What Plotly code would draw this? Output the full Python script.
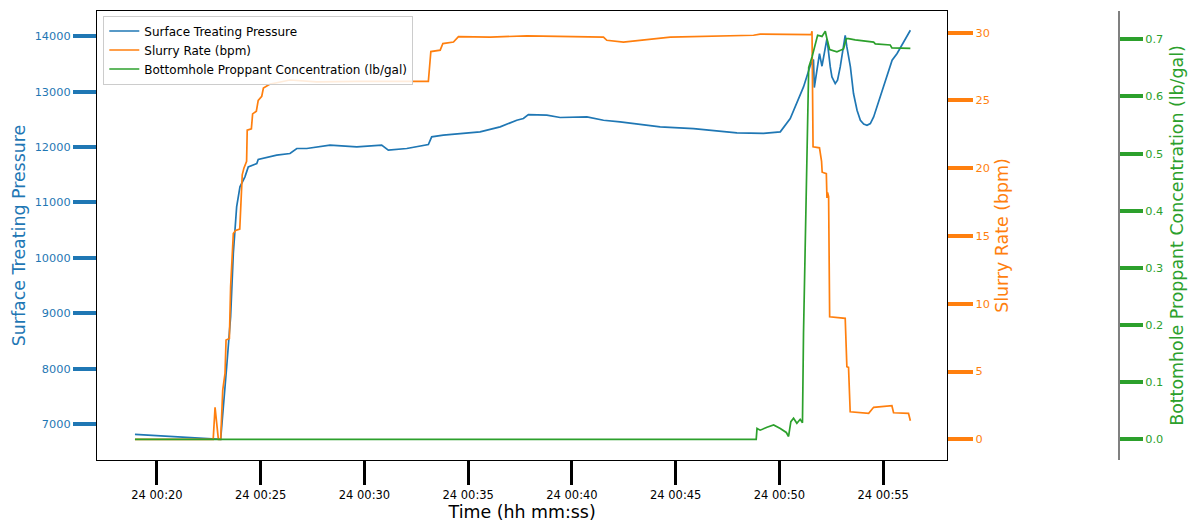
import pandas as pd
import plotly.graph_objects as go

# Treatment data, times are minutes after midnight on the job day
DAY = pd.Timestamp("2018-01-24")

pressure_min = [18.94, 23.07, 23.36, 23.55, 23.68, 23.84, 24.00, 24.24, 24.40, 24.81,
                24.88, 25.77, 26.41, 26.74, 27.22, 28.34, 29.63, 30.83, 31.15, 32.04,
                33.08, 33.24, 33.80, 34.61, 35.57, 36.54, 37.34, 37.66, 37.90, 38.79,
                39.43, 40.72, 41.52, 42.32, 43.29, 44.25, 45.86, 46.82, 47.95, 49.23,
                50.04, 50.52, 50.91, 51.16, 51.49, 51.64, 51.68, 51.93, 52.05, 52.29,
                52.45, 52.53, 52.69, 52.80, 52.93, 53.09, 53.17, 53.25, 53.33, 53.42,
                53.57, 53.74, 53.90, 54.06, 54.22, 54.38, 54.54, 54.78, 55.02, 55.43,
                55.67, 56.31]
pressure_psi = [6814, 6724, 8034, 8936, 10080, 10920, 11281, 11462, 11642, 11703,
                11775, 11853, 11884, 11974, 11974, 12034, 12003, 12034, 11943, 11974,
                12046, 12184, 12214, 12245, 12274, 12364, 12484, 12515, 12587, 12575,
                12533, 12544, 12484, 12455, 12412, 12364, 12334, 12292, 12256, 12245,
                12274, 12515, 12845, 13085, 13477, 13580, 13075, 13688, 13459, 13958,
                13446, 13266, 13147, 13206, 13446, 13868, 14018, 13808, 13627, 13446,
                12966, 12665, 12484, 12415, 12394, 12424, 12544, 12815, 13085, 13567,
                13688, 14108]

rate_min = [18.94, 22.71, 22.80, 22.88, 22.96, 23.07, 23.17, 23.28, 23.33, 23.49,
            23.55, 23.68, 23.79, 23.99, 24.11, 24.19, 24.32, 24.35, 24.55, 24.61,
            24.79, 24.88, 25.05, 25.13, 25.45, 25.77, 26.41, 27.70, 29.63, 33.08,
            33.20, 33.65, 33.78, 34.29, 34.53, 36.06, 37.83, 41.52, 41.68, 42.48,
            43.61, 44.74, 48.75, 49.07, 51.53, 51.57, 51.62, 51.93, 52.03, 52.06,
            52.26, 52.29, 52.32, 52.37, 52.42, 53.17, 53.25, 53.33, 53.41, 54.30,
            54.54, 55.42, 55.50, 56.22, 56.31]
rate_bpm = [0.0, 0.0, 2.36, 1.0, 0.0, 0.0, 3.63, 4.86, 7.32, 7.44,
            11.25, 15.18, 15.4, 15.5, 19.5, 20.0, 20.5, 22.8, 22.9, 24.0,
            24.2, 25.0, 25.3, 25.9, 26.2, 26.3, 26.5, 26.36, 26.4, 26.4,
            28.6, 28.7, 29.19, 29.3, 29.7, 29.67, 29.75, 29.67, 29.43, 29.3,
            29.48, 29.67, 29.8, 29.88, 29.85, 30.1, 21.57, 21.5, 20.5, 19.7,
            19.6, 17.8, 18.2, 17.9, 9.04, 8.92, 5.35, 5.3, 2.03, 1.92,
            2.36, 2.48, 1.96, 1.92, 1.37]

conc_min = [18.94, 48.88, 48.92, 49.07, 49.40, 49.72, 50.04, 50.33, 50.44, 50.55,
            50.68, 50.84, 51.00, 51.11, 51.16, 51.24, 51.33, 51.41, 51.57, 51.73,
            51.84, 52.05, 52.21, 52.29, 52.42, 52.77, 52.93, 53.09, 53.22, 53.33,
            53.65, 54.54, 54.62, 55.34, 55.42, 56.31]
conc_ppg = [0.0, 0.0, 0.019, 0.016, 0.021, 0.025, 0.019, 0.012, 0.005, 0.031,
            0.037, 0.028, 0.035, 0.029, 0.185, 0.337, 0.564, 0.651, 0.669, 0.692,
            0.707, 0.705, 0.714, 0.701, 0.682, 0.678, 0.680, 0.683, 0.701, 0.701,
            0.699, 0.695, 0.692, 0.690, 0.685, 0.684]

x_range_min = [17.11, 58.09]
x_tick_min = [20, 25, 30, 35, 40, 45, 50, 55]
pressure_ticks = [7000, 8000, 9000, 10000, 11000, 12000, 13000, 14000]
rate_ticks = [0, 5, 10, 15, 20, 25, 30]
conc_ticks = [0.0, 0.1, 0.2, 0.3, 0.4, 0.5, 0.6, 0.7]


def to_time(minutes):
    return DAY + pd.to_timedelta(pd.Series(minutes, dtype=float), unit="m")


BLUE, ORANGE, GREEN = "#1f77b4", "#ff7f0e", "#2ca02c"
FONT = "DejaVu Sans"

fig = go.Figure()
fig.add_trace(go.Scatter(x=to_time(pressure_min), y=pressure_psi, mode="lines",
                         name="Surface Treating Pressure", yaxis="y",
                         line=dict(color=BLUE, width=1.7)))
fig.add_trace(go.Scatter(x=to_time(rate_min), y=rate_bpm, mode="lines",
                         name="Slurry Rate (bpm)", yaxis="y2",
                         line=dict(color=ORANGE, width=1.7)))
fig.add_trace(go.Scatter(x=to_time(conc_min), y=conc_ppg, mode="lines",
                         name="Bottomhole Proppant Concentration (lb/gal)", yaxis="y3",
                         line=dict(color=GREEN, width=1.7)))

W, H = 1190, 523
ML, MR, MT, MB = 97, 0, 11, 63
paper_w = W - ML - MR
x_right = (947.3 - ML) / paper_w
y3_pos = (1119 - ML) / paper_w

fig.update_layout(
    width=W, height=H, autosize=False,
    margin=dict(l=ML, r=MR, t=MT, b=MB, pad=0),
    paper_bgcolor="white", plot_bgcolor="white",
    font=dict(family=FONT, size=11.3, color="black"),
    showlegend=True,
    legend=dict(x=(103.3 - ML) / paper_w, y=(460 - 15.5) / (H - MT - MB),
                xanchor="left", yanchor="top",
                bgcolor="rgba(255,255,255,0.85)", bordercolor="#cccccc", borderwidth=1,
                font=dict(family=FONT, size=12, color="black"),
                tracegroupgap=0),
    xaxis=dict(
        domain=[0, x_right], type="date",
        range=list(to_time(x_range_min)),
        tickvals=list(to_time(x_tick_min)), tickformat="%d %H:%M",
        ticks="outside", ticklen=24, tickwidth=3, tickcolor="black",
        tickfont=dict(family=FONT, size=11.5, color="black"),
        showline=True, linecolor="black", linewidth=1.3, mirror=True,
        showgrid=False, zeroline=False,
        title=dict(text="Time (hh mm:ss)", font=dict(family=FONT, size=17.4, color="black"),
                   standoff=4),
    ),
    yaxis=dict(
        range=[6350, 14456], tickvals=pressure_ticks, tickformat="d",
        ticks="outside", ticklen=23, tickwidth=4, tickcolor=BLUE,
        tickfont=dict(family=FONT, size=11.3, color=BLUE),
        showline=True, linecolor="black", linewidth=1.3, mirror=True,
        showgrid=False, zeroline=False,
        title=dict(text="Surface Treating Pressure", font=dict(family=FONT, size=17.4, color=BLUE),
                   standoff=4),
    ),
    yaxis2=dict(
        overlaying="y", side="right", anchor="x",
        range=[-1.526, 31.59], tickvals=rate_ticks,
        ticks="outside", ticklen=25, tickwidth=4, tickcolor=ORANGE,
        tickfont=dict(family=FONT, size=11.3, color=ORANGE),
        showline=False, showgrid=False, zeroline=False,
        title=dict(text="Slurry Rate (bpm)", font=dict(family=FONT, size=17.4, color=ORANGE),
                   standoff=6),
    ),
    yaxis3=dict(
        overlaying="y", side="right", anchor="free", position=y3_pos,
        range=[-0.0362, 0.7495], tickvals=conc_ticks, tickformat=".1f",
        ticks="outside", ticklen=23, tickwidth=4, tickcolor=GREEN,
        tickfont=dict(family=FONT, size=11.3, color=GREEN),
        showline=True, linecolor="#808080", linewidth=2,
        showgrid=False, zeroline=False,
        title=dict(text="Bottomhole Proppant Concentration (lb/gal)",
                   font=dict(family=FONT, size=17.4, color=GREEN), standoff=8),
    ),
)

fig.write_html("out.html")
